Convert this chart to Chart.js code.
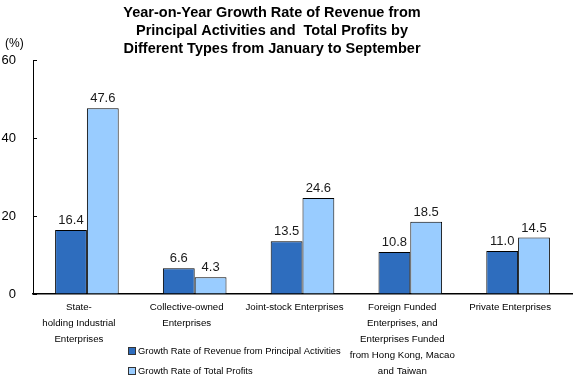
<!DOCTYPE html>
<html>
<head>
<meta charset="utf-8">
<script src="https://cdn.jsdelivr.net/npm/chart.js@4/dist/chart.umd.min.js"></script>
<style>
html,body{margin:0;padding:0;background:#fff;}
#wrap{width:579px;height:379px;}
</style>
</head>
<body>
<div id="wrap"><canvas id="c" width="579" height="379"></canvas></div>
<script>
const categories = [
  ["State-", "holding Industrial", "Enterprises"],
  ["Collective-owned", "Enterprises"],
  ["Joint-stock Enterprises"],
  ["Foreign Funded", "Enterprises, and", "Enterprises Funded", "from Hong Kong, Macao", "and Taiwan"],
  ["Private Enterprises"]
];
const revenueGrowth = [16.4, 6.6, 13.5, 10.8, 11.0];
const profitGrowth = [47.6, 4.3, 24.6, 18.5, 14.5];
const seriesNames = ["Growth Rate of Revenue from Principal Activities", "Growth Rate of Total Profits"];
const titleLines = ["Year-on-Year Growth Rate of Revenue from", "Principal Activities and  Total Profits by", "Different Types from January to September"];
const yTicks = [0, 20, 40, 60];
const unitLabel = "(%)";

const FONT = "'Liberation Sans', Arial, sans-serif";

const decorPlugin = {
  id: 'decor',
  afterDraw(chart) {
    const ctx = chart.ctx;
    ctx.save();
    // title
    ctx.fillStyle = '#000';
    ctx.font = "bold 14.5px " + FONT;
    ctx.textAlign = 'center';
    ctx.textBaseline = 'middle';
    titleLines.forEach((t, i) => ctx.fillText(t, 272, 13 + i * 18));
    // unit
    ctx.font = "12px " + FONT;
    ctx.textAlign = 'left';
    ctx.fillText(unitLabel, 5, 44);
    // inner y ticks
    const ys = chart.scales.y;
    ctx.strokeStyle = '#000';
    ctx.lineWidth = 1;
    yTicks.forEach(v => {
      const py = Math.round(ys.getPixelForValue(v)) + 0.5;
      ctx.beginPath();
      ctx.moveTo(ys.right, py);
      ctx.lineTo(ys.right + 4, py);
      ctx.stroke();
    });
    // value labels
    ctx.font = "13px " + FONT;
    ctx.fillStyle = '#1a1a1a';
    ctx.textAlign = 'center';
    ctx.textBaseline = 'bottom';
    chart.data.datasets.forEach((ds, di) => {
      const meta = chart.getDatasetMeta(di);
      meta.data.forEach((el, i) => {
        ctx.fillText(ds.data[i].toFixed(1), el.x, el.y - 3);
      });
    });
    // legend
    ctx.font = "9.4px " + FONT;
    ctx.textAlign = 'left';
    ctx.textBaseline = 'middle';
    chart.data.datasets.forEach((ds, di) => {
      const cy = 351 + di * 20;
      ctx.fillStyle = ds.backgroundColor;
      ctx.fillRect(128, cy - 3.5, 7, 7);
      ctx.strokeStyle = '#333';
      ctx.strokeRect(128.5, cy - 3.5, 7, 7);
      ctx.fillStyle = '#000';
      ctx.fillText(ds.label, 138, cy);
    });
    ctx.restore();
  }
};

new Chart(document.getElementById('c'), {
  type: 'bar',
  data: {
    labels: categories,
    datasets: [
      { label: seriesNames[0], data: revenueGrowth, backgroundColor: '#2E6DBE', borderColor: '#000', borderWidth: 1 },
      { label: seriesNames[1], data: profitGrowth, backgroundColor: '#99CCFF', borderColor: '#000', borderWidth: 1 }
    ]
  },
  options: {
    responsive: false,
    animation: false,
    layout: { padding: { top: 60, right: 7, left: 0, bottom: 0 } },
    datasets: { bar: { categoryPercentage: 0.59, barPercentage: 1.0 } },
    plugins: { legend: { display: false }, title: { display: false }, tooltip: { enabled: false } },
    scales: {
      x: {
        grid: { display: true, drawOnChartArea: false, drawTicks: false },
        border: { display: true, color: '#000', width: 1.5 },
        ticks: { color: '#000', font: { family: FONT, size: 9.7, lineHeight: '16px' }, padding: 5, labelOffset: -8, maxRotation: 0, minRotation: 0, autoSkip: false },
        afterFit(s) { s.height = 85; }
      },
      y: {
        min: 0, max: 60,
        grid: { display: true, drawOnChartArea: false, drawTicks: false },
        border: { display: true, color: '#000', width: 1 },
        ticks: { stepSize: 20, color: '#000', font: { family: FONT, size: 13 }, padding: 17 },
        afterFit(s) { s.width = 33; }
      }
    }
  },
  plugins: [decorPlugin]
});
</script>
</body>
</html>
